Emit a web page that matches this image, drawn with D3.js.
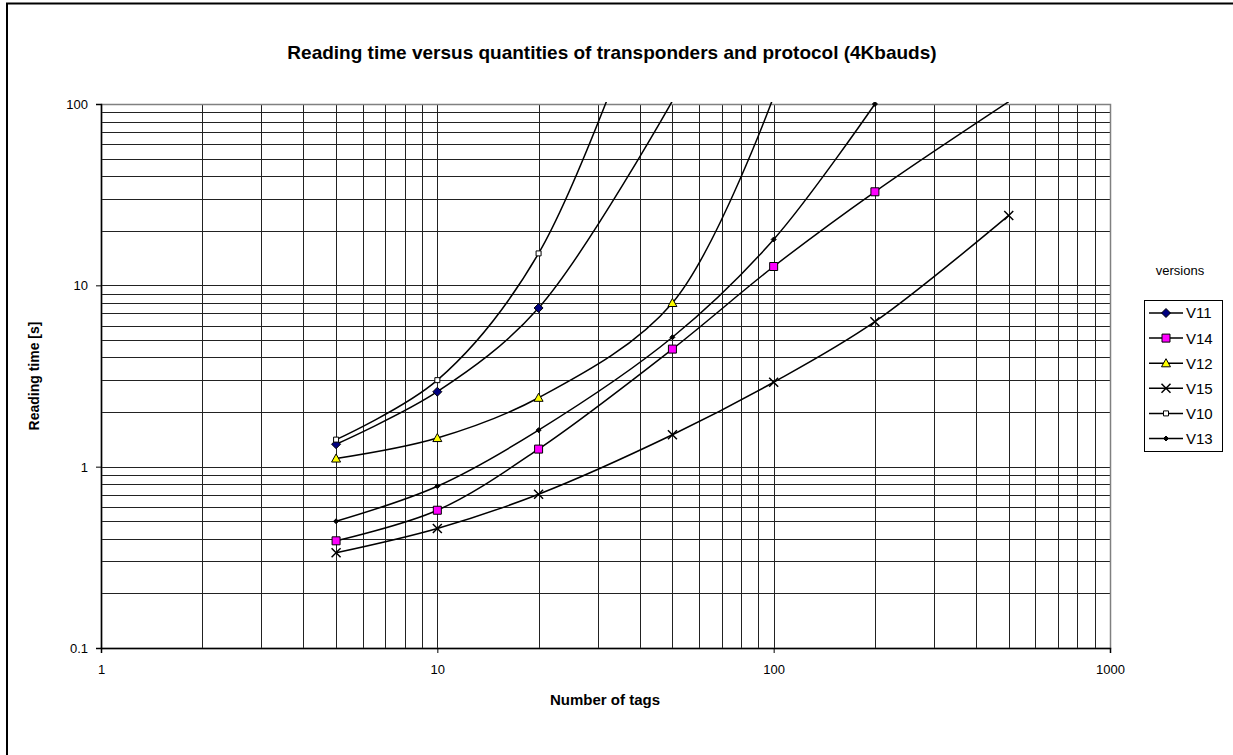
<!DOCTYPE html>
<html>
<head>
<meta charset="utf-8">
<script src="https://cdn.jsdelivr.net/npm/d3@7"></script>
<style>
  body { margin: 0; background: #fff; }
  svg { font-family: "Liberation Sans", Arial, sans-serif; }
</style>
</head>
<body>
<div id="chart"></div>
<script>
// Series data (x = number of tags, y = reading time in s)
let seriesNames = ["V11", "V14", "V12", "V15", "V10", "V13"];
let tagsV11 = [5, 10, 20, 50];
let timeV11 = [1.33, 2.59, 7.5, 104];
let tagsV14 = [5, 10, 20, 50, 100, 200, 500];
let timeV14 = [0.39, 0.575, 1.25, 4.45, 12.7, 32.8, 103];
let tagsV12 = [5, 10, 20, 50, 100];
let timeV12 = [1.11, 1.44, 2.4, 8.0, 110];
let tagsV15 = [5, 10, 20, 50, 100, 200, 500];
let timeV15 = [0.335, 0.456, 0.705, 1.5, 2.92, 6.3, 24.3];
let tagsV10 = [5, 10, 20, 50];
let timeV10 = [1.41, 3.0, 15.0, 1000];
let tagsV13 = [5, 10, 20, 50, 100, 200];
let timeV13 = [0.5, 0.78, 1.59, 5.17, 17.9, 100];

let xTickValues = [1, 10, 100, 1000];
let yTickValues = [0.1, 1, 10, 100];

let width = 1233, height = 755;
let margin = {top: 104, left: 101, right: 1233 - 1110, bottom: 755 - 648};
let plotW = width - margin.left - margin.right,
    plotH = height - margin.top - margin.bottom;

let svg = d3.select("#chart").append("svg")
    .attr("width", width)
    .attr("height", height);

// outer chart border (only left/top visible in the crop)
svg.append("rect")
    .attr("x", 7).attr("y", 3.5)
    .attr("width", 1300).attr("height", 800)
    .attr("fill", "none")
    .attr("stroke", "#000")
    .attr("stroke-width", 2);

let x = d3.scaleLog().domain([1, 1000]).range([0, plotW]);
let y = d3.scaleLog().domain([0.1, 100]).range([plotH, 0]);

let g = svg.append("g")
    .attr("transform", "translate(" + margin.left + "," + margin.top + ")");

// minor + major gridlines
function gridValues(lo, hi) {
    let vals = [];
    for (let d = lo; d < hi; d *= 10) {
        for (let k = 1; k <= 9; k++) vals.push(d * k);
    }
    vals.push(hi);
    return vals;
}

g.selectAll(".vgrid")
    .data(gridValues(1, 1000))
    .enter().append("line")
    .attr("class", "vgrid")
    .attr("x1", d => Math.round(x(d)) + 0.5)
    .attr("x2", d => Math.round(x(d)) + 0.5)
    .attr("y1", 0).attr("y2", plotH)
    .attr("stroke", "#222")
    .attr("stroke-width", 1);

g.selectAll(".hgrid")
    .data(gridValues(0.1, 100))
    .enter().append("line")
    .attr("class", "hgrid")
    .attr("y1", d => Math.round(y(d)) + 0.5)
    .attr("y2", d => Math.round(y(d)) + 0.5)
    .attr("x1", 0).attr("x2", plotW)
    .attr("stroke", "#222")
    .attr("stroke-width", 1);

// plot border
g.append("rect")
    .attr("x", 0.5).attr("y", 0.5)
    .attr("width", plotW).attr("height", plotH)
    .attr("fill", "none")
    .attr("stroke", "#808080")
    .attr("stroke-width", 1.5);

// axes
let xAxis = g.append("g")
    .attr("transform", "translate(0," + plotH + ")")
    .call(d3.axisBottom(x).tickValues(xTickValues).tickFormat(d3.format("")).tickSize(5).tickPadding(12));
let yAxis = g.append("g")
    .call(d3.axisLeft(y).tickValues(yTickValues).tickFormat(d => d).tickSize(5).tickPadding(8));
[xAxis, yAxis].forEach(a => {
    a.select(".domain").attr("stroke", "#000").attr("stroke-width", 1.5);
    a.selectAll(".tick line").attr("stroke", "#000");
    a.selectAll("text")
        .attr("font-family", "Liberation Sans, Arial, sans-serif")
        .attr("font-size", "13px")
        .attr("fill", "#000");
});
yAxis.selectAll("text").attr("dy", "0.35em");

// clip for lines
svg.append("defs").append("clipPath").attr("id", "plotclip")
    .append("rect")
    .attr("x", 0).attr("y", -2)
    .attr("width", plotW + 2).attr("height", plotH + 2);

let series = [
    {name: "V11", tags: tagsV11, time: timeV11, shape: "diamond", size: 9, fill: "#000080"},
    {name: "V14", tags: tagsV14, time: timeV14, shape: "square", size: 8, fill: "#ff00ff"},
    {name: "V12", tags: tagsV12, time: timeV12, shape: "triangle", size: 9, fill: "#ffff00"},
    {name: "V15", tags: tagsV15, time: timeV15, shape: "cross", size: 9, fill: "none"},
    {name: "V10", tags: tagsV10, time: timeV10, shape: "square", size: 5, fill: "#fff"},
    {name: "V13", tags: tagsV13, time: timeV13, shape: "diamond", size: 5, fill: "#000"}
];

function markerPath(shape, s) {
    let h = s / 2;
    if (shape === "diamond") return "M0," + (-h) + "L" + h + ",0L0," + h + "L" + (-h) + ",0Z";
    if (shape === "square") return "M" + (-h) + "," + (-h) + "h" + s + "v" + s + "h" + (-s) + "Z";
    if (shape === "triangle") return "M0," + (-h) + "L" + h + "," + (h * 0.8) + "L" + (-h) + "," + (h * 0.8) + "Z";
    if (shape === "cross") return "M" + (-h) + "," + (-h) + "L" + h + "," + h + "M" + h + "," + (-h) + "L" + (-h) + "," + h;
}

let line = d3.line()
    .x(d => x(d[0]))
    .y(d => y(d[1]))
    .curve(d3.curveCatmullRom.alpha(0.5));

let plotG = g.append("g").attr("clip-path", "url(#plotclip)");

series.forEach(s => {
    let pts = s.tags.map((t, i) => [t, s.time[i]]);
    plotG.append("path")
        .datum(pts)
        .attr("d", line)
        .attr("fill", "none")
        .attr("stroke", "#000")
        .attr("stroke-width", 1.5);
});

// markers outside the value range are not drawn (as in the original)
series.forEach(s => {
    let pts = s.tags.map((t, i) => [t, s.time[i]]).filter(d => d[1] <= 100);
    plotG.selectAll(null)
        .data(pts)
        .enter().append("path")
        .attr("transform", d => "translate(" + x(d[0]) + "," + y(d[1]) + ")")
        .attr("d", markerPath(s.shape, s.size))
        .attr("fill", s.fill)
        .attr("stroke", "#000")
        .attr("stroke-width", s.shape === "cross" ? 1.5 : 1);
});

// titles
svg.append("text")
    .attr("x", 612).attr("y", 59)
    .attr("text-anchor", "middle")
    .attr("font-size", "19px")
    .attr("font-weight", "bold")
    .text("Reading time versus quantities of transponders and protocol (4Kbauds)");

svg.append("text")
    .attr("x", 605).attr("y", 705)
    .attr("text-anchor", "middle")
    .attr("font-size", "15px")
    .attr("font-weight", "bold")
    .text("Number of tags");

svg.append("text")
    .attr("transform", "translate(39," + (margin.top + plotH / 2) + ") rotate(-90)")
    .attr("text-anchor", "middle")
    .attr("font-size", "14px")
    .attr("font-weight", "bold")
    .text("Reading time [s]");

// legend
svg.append("text")
    .attr("x", 1180).attr("y", 275)
    .attr("text-anchor", "middle")
    .attr("font-size", "13px")
    .text("versions");

let legend = svg.append("g").attr("transform", "translate(1144,300)");
legend.append("rect")
    .attr("x", 0.5).attr("y", 0.5)
    .attr("width", 78).attr("height", 151)
    .attr("fill", "#fff")
    .attr("stroke", "#000")
    .attr("stroke-width", 1);

let items = legend.selectAll(".item")
    .data(series)
    .enter().append("g")
    .attr("class", "item")
    .attr("transform", (d, i) => "translate(0," + (13 + i * 25.1) + ")");
items.append("line")
    .attr("x1", 5).attr("x2", 39)
    .attr("stroke", "#000").attr("stroke-width", 1.5);
items.append("path")
    .attr("transform", "translate(22,0)")
    .attr("d", d => markerPath(d.shape, d.size))
    .attr("fill", d => d.fill)
    .attr("stroke", "#000")
    .attr("stroke-width", d => d.shape === "cross" ? 1.5 : 1);
items.append("text")
    .attr("x", 42).attr("dy", "0.36em")
    .attr("font-size", "15px")
    .text(d => d.name);
</script>
</body>
</html>
